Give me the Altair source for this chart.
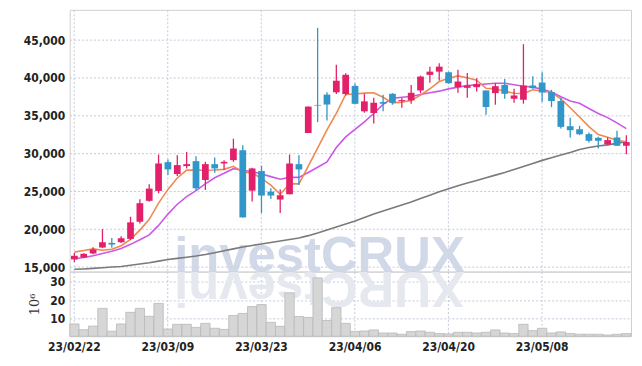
import altair as alt
import pandas as pd

dates = ["23/02/22", "23/02/23", "23/02/24", "23/02/27", "23/02/28",
         "23/03/02", "23/03/03", "23/03/06", "23/03/07", "23/03/08", "23/03/09", "23/03/10",
         "23/03/13", "23/03/14", "23/03/15", "23/03/16", "23/03/17", "23/03/20", "23/03/21",
         "23/03/22", "23/03/23", "23/03/24", "23/03/27", "23/03/28", "23/03/29", "23/03/30",
         "23/03/31", "23/04/03", "23/04/04", "23/04/05", "23/04/06", "23/04/07", "23/04/10",
         "23/04/11", "23/04/12", "23/04/13", "23/04/14", "23/04/17", "23/04/18", "23/04/19",
         "23/04/20", "23/04/21", "23/04/24", "23/04/25", "23/04/26", "23/04/27", "23/04/28",
         "23/05/02", "23/05/03", "23/05/04", "23/05/08", "23/05/09", "23/05/10", "23/05/11",
         "23/05/12", "23/05/15", "23/05/16", "23/05/17", "23/05/18", "23/05/19"]

label_dates = ["23/02/22", "23/03/09", "23/03/23", "23/04/06", "23/04/20", "23/05/08"]

opens = [16006, 16268, 16793, 17580, 18193, 18280, 18718, 20990, 23750, 25060,
         28866, 27290, 28340, 28997, 26500, 28600, 28690, 29130, 30440, 25100,
         27685, 24973, 23920, 24620, 28600, 32715, 36430, 37790, 38095, 37875,
         38950, 35585, 35365, 36810, 37900, 36940, 37030, 38340, 40400, 40830,
         40745, 38775, 38690, 38775, 38340, 37990, 39080, 37245, 37110, 38995,
         39390, 38120, 36940, 33615, 33220, 32565, 32085, 31210, 32130, 31030]
highs = [16880, 16837, 17624, 20030, 18850, 19068, 21650, 23970, 25935, 29870,
         29215, 29784, 30220, 29650, 28910, 29480, 29130, 31970, 31100, 28120,
         28385, 25410, 25280, 29870, 29780, 36210, 46620, 38095, 41725, 40630,
         39250, 37900, 37380, 37770, 37990, 37340, 39080, 40310, 41490, 41930,
         40830, 41090, 40650, 39960, 38340, 39300, 39870, 38560, 44460, 40220,
         40745, 38425, 37375, 34750, 33660, 32780, 32215, 32130, 33000, 32435]
lows = [15656, 16225, 16700, 17490, 17540, 18193, 18590, 20770, 23620, 24750,
        27160, 27030, 28035, 25100, 25190, 27470, 27820, 28910, 21560, 23660,
        22130, 24010, 22130, 24620, 25850, 32715, 34160, 34380, 37875, 37660,
        36500, 35410, 33970, 35585, 36460, 36070, 36590, 37990, 39350, 39650,
        39210, 38030, 37375, 38210, 35145, 36460, 37245, 36720, 36590, 38560,
        36810, 36150, 33310, 32130, 32435, 31470, 30680, 31120, 31030, 29900]
closes = [16487, 16750, 17318, 18280, 17974, 18805, 20905, 23440, 25370, 28690,
          27903, 28472, 28603, 25410, 28600, 28035, 28910, 30660, 21560, 28035,
          24450, 24450, 24490, 28690, 27900, 36210, 36345, 36480, 39625, 40410,
          36575, 36900, 36720, 36590, 36720, 37070, 38030, 40180, 40830, 41490,
          39300, 39520, 38995, 39210, 36150, 38910, 37900, 37680, 38995, 38645,
          38075, 36940, 33530, 33090, 32565, 31690, 31690, 31780, 31030, 31515]

ma_short = [16970, 17190, 17400, 17230, 17362, 17825, 18656, 19881, 21299, 23442,
            25262, 26775, 27808, 27816, 27798, 27824, 27912, 28323, 27553, 27440,
            26723, 25831, 24597, 26023, 25996, 28348, 30727, 33125, 35312, 37814,
            37884, 37995, 38043, 37436, 36698, 36800, 37026, 37718, 38566, 39520,
            39966, 40264, 40027, 39703, 38635, 38557, 38233, 37970, 37927, 38426,
            38259, 38067, 37237, 36056, 34840, 33563, 32513, 32163, 31751, 31541]
ma_mid = [16100, 16250, 16500, 16800, 17100, 17450, 18000, 18600, 19250, 20500,
          22000, 23300, 24300, 25100, 26000, 26800, 27400, 28000, 27800, 27600,
          27300, 26950, 26600, 26850, 26850, 27500, 28200, 28900, 30800, 32200,
          33200, 34200, 35300, 36500, 37300, 37450, 37550, 37800, 38050, 38250,
          38550, 38780, 38990, 39080, 39200, 39300, 39300, 39100, 38900, 38780,
          38500, 38150, 37500, 36950, 36650, 35950, 35300, 34750, 34050, 33300]
ma_long = [14700, 14750, 14820, 14900, 15000, 15080, 15230, 15400, 15570, 15780,
           16000, 16150, 16300, 16450, 16650, 16900, 17150, 17400, 17650, 17850,
           18050, 18250, 18450, 18650, 18850, 19150, 19500, 19900, 20300, 20700,
           21100, 21550, 22000, 22400, 22800, 23200, 23600, 24050, 24500, 24950,
           25350, 25750, 26100, 26450, 26800, 27150, 27500, 27900, 28300, 28700,
           29100, 29450, 29800, 30150, 30550, 30800, 31000, 31150, 31350, 31600]

volumes = [6.8, 3.6, 5.6, 15.4, 2.8, 6.8, 13.2, 15.4, 11.0, 18.1,
           4.0, 6.6, 6.6, 4.9, 7.1, 4.4, 3.8, 11.5, 12.6, 16.4,
           17.5, 7.7, 5.5, 24.0, 10.9, 10.4, 32.2, 8.7, 15.8, 7.1,
           2.7, 2.9, 3.5, 1.8, 1.8, 1.1, 2.6, 2.9, 2.2, 1.5,
           1.3, 2.2, 2.2, 1.8, 2.2, 3.5, 1.8, 1.5, 6.6, 3.1,
           4.4, 1.8, 2.4, 1.5, 1.1, 1.1, 1.1, 0.7, 1.1, 1.5]

price_ticks = [15000, 20000, 25000, 30000, 35000, 40000, 45000]
volume_ticks = [10, 20, 30]

df = pd.DataFrame({"date": dates, "open": opens, "high": highs, "low": lows,
                   "close": closes, "ma5": ma_short, "ma20": ma_mid, "ma60": ma_long,
                   "vol": volumes})
wm = pd.DataFrame({"t": ["investCRUX"], "r": ["XURCtsevni"]})

PINK = "#e3216b"
BLUE = "#3196c8"
GRID = "#c6c9dc"
FONT = "DejaVu Sans Condensed"
WM_FONT = "Liberation Sans"
W = 564
H1 = 263
H2 = 65

xscale = alt.Scale(paddingInner=0, paddingOuter=0)
x_top = alt.X("date:O", sort=None, scale=xscale,
              axis=alt.Axis(values=label_dates, labels=False, ticks=False, domain=False,
                            grid=True, bandPosition=0.5, title=None,
                            minExtent=0, maxExtent=0, offset=0))
x_bot = alt.X("date:O", sort=None, scale=xscale,
              axis=alt.Axis(values=label_dates, labels=True, ticks=False, domain=False,
                            grid=True, bandPosition=0.5, title=None, labelAngle=0,
                            labelPadding=5))

yscale = alt.Scale(domain=[14400, 49000], nice=False, zero=False)
yaxis = alt.Axis(values=price_ticks, labelExpr="format(datum.value, ',')", ticks=False,
                 domain=False, title=None, labelPadding=5)

color = alt.condition("datum.close >= datum.open", alt.value(PINK), alt.value(BLUE))

base = alt.Chart(df).encode(x=x_top)

watermark = alt.Chart(wm).mark_text(
    font=WM_FONT, fontWeight="bold", fontSize=51, color="#cdd4e6",
    align="center", baseline="alphabetic", opacity=0.9
).encode(x=alt.value(251), y=alt.value(H1), text="t:N")

lines = [
    base.mark_line(color="#7a7a7a", strokeWidth=1.6).encode(y=alt.Y("ma60:Q", scale=yscale, axis=yaxis)),
    base.mark_line(color="#cc58e6", strokeWidth=1.6).encode(y=alt.Y("ma20:Q", axis=yaxis)),
    base.mark_line(color="#ee8a52", strokeWidth=1.6).encode(y=alt.Y("ma5:Q", axis=yaxis)),
]
wicks = base.mark_rule(strokeWidth=1.3).encode(y=alt.Y("low:Q", axis=yaxis), y2="high:Q", color=color)
bodies = base.mark_bar(width={"band": 0.72}).encode(y=alt.Y("open:Q", axis=yaxis), y2="close:Q", color=color)

top = alt.layer(watermark, *lines, wicks, bodies).properties(width=W, height=H1)

reflection = alt.Chart(wm).mark_text(
    font=WM_FONT, fontWeight="bold", fontSize=51, color="#e6e8f0",
    align="center", baseline="alphabetic", angle=180
).encode(x=alt.value(251), y=alt.value(0), text="r:N")

vol = alt.Chart(df).mark_bar(width={"band": 1}, fill="#d6d6d6", stroke="#b8b8b8",
                             strokeWidth=0.8).encode(
    x=x_bot,
    y=alt.Y("vol:Q", scale=alt.Scale(domain=[0, 35.7], nice=False),
            axis=alt.Axis(values=volume_ticks, ticks=False, domain=False, title="10⁶",
                          titleFont="DejaVu Serif", titleFontWeight="normal",
                          titleFontSize=13, titleColor="#333", titlePadding=8,
                          labelPadding=5))
)
bottom = alt.layer(reflection, vol).properties(width=W, height=H2)

chart = alt.vconcat(top, bottom, spacing=0, bounds="flush").properties(
    padding={"left": 14, "top": 0, "right": 2, "bottom": 5},
    background="white"
).configure_view(stroke="#d0d0d0").configure_axis(
    gridColor=GRID, gridDash=[2, 2], gridWidth=1,
    labelFont=FONT, labelFontWeight="bold", labelFontSize=12, labelColor="#222"
)

chart.save("out.html", embed_options={"renderer": "svg", "actions": False})
